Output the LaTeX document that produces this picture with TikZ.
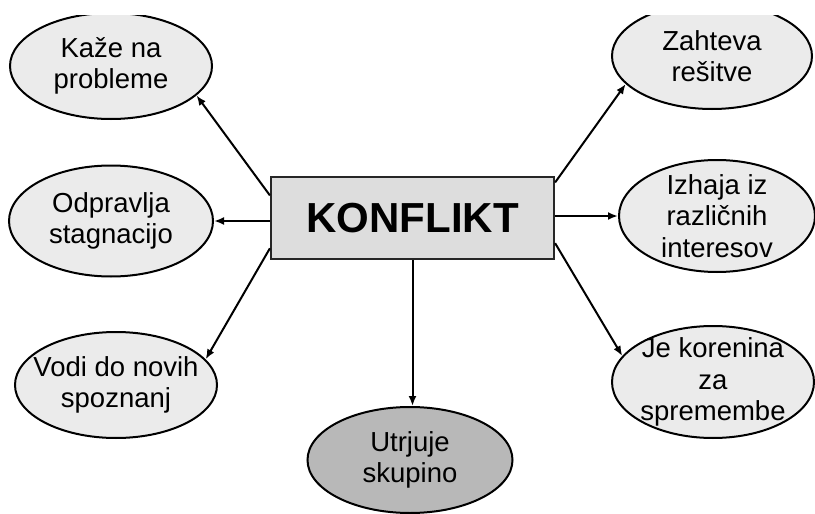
\documentclass[tikz,border=0pt]{standalone}
\usepackage{fontspec}
\setmainfont{Liberation Sans}
\usetikzlibrary{shapes.geometric,arrows.meta}
\definecolor{ellfill}{HTML}{EBEBEB}
\definecolor{boxfill}{HTML}{DDDDDD}
\definecolor{darkfill}{HTML}{B8B8B8}
\tikzset{
  ell/.style={ellipse,draw=black,line width=2pt,fill=ellfill,inner sep=0pt},
  txt/.style={align=center,font=\fontsize{27.5}{31.5}\selectfont,inner sep=0pt},
  mainbox/.style={rectangle,draw=black!85,line width=2.2pt,fill=boxfill,minimum width=283pt,minimum height=82pt,inner sep=0pt,font=\fontsize{42}{48}\selectfont\bfseries},
  arr/.style={line width=2pt,-{Latex[length=10pt,width=8pt]}}
}
\begin{document}
\begin{tikzpicture}[x=1pt,y=-1pt]
\useasboundingbox (0,0) rectangle (815,514);
\begin{scope}
\clip (0,15) rectangle (815,514);
\node[ell,minimum width=202pt,minimum height=106pt] (kaze) at (111,66) {};
\node[ell,minimum width=200pt,minimum height=106pt] (zah) at (712,56) {};
\node[ell,minimum width=204pt,minimum height=111pt] (odp) at (111,221) {};
\node[ell,minimum width=196pt,minimum height=112pt] (izh) at (717,216) {};
\node[ell,minimum width=202pt,minimum height=106pt] (vodi) at (116,385) {};
\node[ell,minimum width=202pt,minimum height=112pt] (jek) at (713,382) {};
\node[ell,fill=darkfill,minimum width=205pt,minimum height=106pt] (utr) at (410,460) {};
\end{scope}
\node[txt] at (kaze) {Kaže na\\probleme};
\node[txt] at (zah) {Zahteva\\rešitve};
\node[txt] at (odp) {Odpravlja\\stagnacijo};
\node[txt] at (izh) {Izhaja iz\\različnih\\interesov};
\node[txt] at (vodi) {Vodi do novih\\spoznanj};
\node[txt] at (jek) {Je korenina\\za\\spremembe};
\node[txt] at (utr) {Utrjuje\\skupino};
\node[mainbox] (box) at (412.5,218) {KONFLIKT};
\draw[arr] (box.171.5) -- (kaze.-19);
\draw[arr] (box.west |- odp.east) -- (odp.east);
\draw[arr] (box.-168.3) -- (vodi.16);
\draw[arr] (box.14) -- (zah.-162);
\draw[arr] (box.east |- izh.west) -- (izh.west);
\draw[arr] (box.-10) -- (jek.164.6);
\draw[arr] (box.south) -- (box.south |- utr.north);
\end{tikzpicture}
\end{document}
